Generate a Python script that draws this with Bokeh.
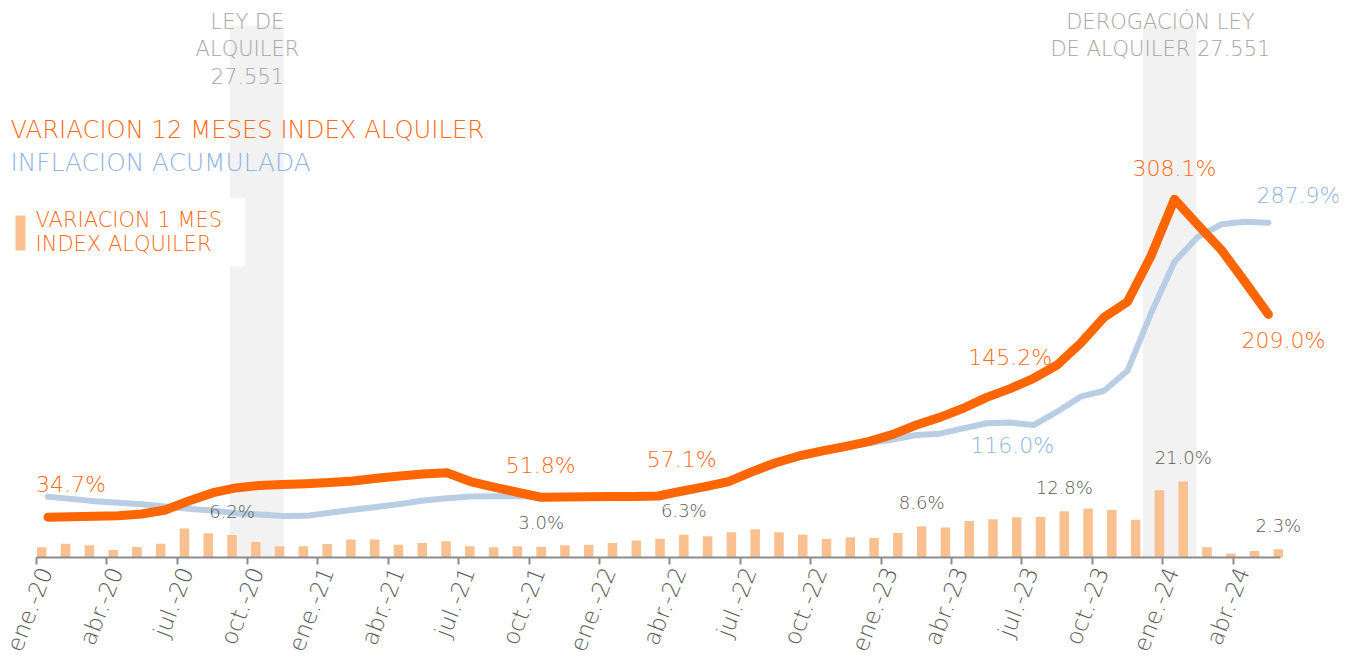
from bokeh.plotting import figure
from bokeh.models import Range1d, FixedTicker, BoxAnnotation, Label, ColumnDataSource, LinearAxis
from bokeh.core.properties import value
from bokeh.embed import file_html
from bokeh.resources import INLINE

# ---------------- data ----------------
months = ["ene.-20", "feb.-20", "mar.-20", "abr.-20", "may.-20", "jun.-20", "jul.-20", "ago.-20", "sep.-20", "oct.-20", "nov.-20", "dic.-20",
          "ene.-21", "feb.-21", "mar.-21", "abr.-21", "may.-21", "jun.-21", "jul.-21", "ago.-21", "sep.-21", "oct.-21", "nov.-21", "dic.-21",
          "ene.-22", "feb.-22", "mar.-22", "abr.-22", "may.-22", "jun.-22", "jul.-22", "ago.-22", "sep.-22", "oct.-22", "nov.-22", "dic.-22",
          "ene.-23", "feb.-23", "mar.-23", "abr.-23", "may.-23", "jun.-23", "jul.-23", "ago.-23", "sep.-23", "oct.-23", "nov.-23", "dic.-23",
          "ene.-24", "feb.-24", "mar.-24", "abr.-24", "may.-24"]

tick_labels = ["ene.-20", "abr.-20", "jul.-20", "oct.-20", "ene.-21", "abr.-21", "jul.-21", "oct.-21", "ene.-22",
               "abr.-22", "jul.-22", "oct.-22", "ene.-23", "abr.-23", "jul.-23", "oct.-23", "ene.-24", "abr.-24"]

rent_12m = [34.7, 35.0, 35.4, 35.9, 37.4, 40.8, 48.6, 55.5, 59.8, 61.9,
            62.8, 63.5, 64.5, 65.8, 68.1, 70.1, 71.8, 72.9, 65.3, 60.6,
            56.1, 51.8, 52.0, 52.2, 52.4, 52.4, 52.9, 57.1, 60.9, 65.2,
            73.8, 81.5, 87.3, 91.6, 95.6, 99.9, 105.9, 113.9, 120.5, 128.3,
            137.7, 145.2, 154.1, 165.5, 184.2, 206.5, 220.0, 259.2, 308.1, 285.9,
            264.4, 237.1, 209.0]

inflation = [52.3, 50.4, 48.4, 47.0, 45.8, 43.8, 41.9, 40.4, 38.1, 37.0,
             35.6, 35.8, 38.5, 41.0, 43.5, 46.0, 49.0, 51.0, 52.4, 52.6,
             52.6, 52.0, 51.5, 51.5, 51.8, 52.0, 52.5, 55.5, 59.5, 64.0,
             72.0, 80.0, 86.0, 90.5, 94.5, 98.5, 101.5, 105.3, 106.5, 111.0,
             115.4, 116.0, 113.9, 125.4, 138.3, 143.4, 160.6, 210.0, 254.3, 275.8,
             286.5, 288.7, 287.9]

rent_1m = [2.8, 3.8, 3.4, 2.1, 2.9, 3.8, 8.0, 6.7, 6.2, 4.3,
           3.1, 3.1, 3.7, 5.0, 5.0, 3.5, 4.0, 4.5, 3.1, 2.8,
           3.1, 3.0, 3.4, 3.5, 4.0, 4.7, 5.2, 6.3, 5.9, 7.0,
           7.8, 7.0, 6.3, 5.1, 5.6, 5.4, 6.8, 8.6, 8.3, 10.1,
           10.6, 11.1, 11.2, 12.8, 13.5, 13.1, 10.4, 18.6, 21.0, 2.8,
           1.1, 1.8, 2.3]

bar_labelled = [8, 21, 27, 37, 43, 48, 52]

law_events = ["LEY DE\nALQUILER\n27.551", "DEROGACIÓN LEY\nDE ALQUILER 27.551"]
event_start = [7.75, 46.65]
event_end = [10.05, 48.93]
event_label_x = [8.5, 47.4]

# ---------------- layout helpers ----------------
FONT = "DejaVu Sans Light"
ORANGE = "#FF6600"
ORANGE_TXT = "#FF6A13"
BLUE = "#B9CDE5"
BLUE_TXT = "#8EB4E3"
BAR = "#FAC090"
GREY_TXT = "#595959"
ANNOT = "#A6A6A6"
AXIS = "#8C8C8C"

X0, X1 = -1.680, 54.988
Y1 = 472.05
FRAME_W, FRAME_H = 1330, 549


def X(px):  # page pixel -> data x
    return X0 + (px - 8) / FRAME_W * (X1 - X0)


def Y(py):  # page pixel -> data y
    return (557 - py) / FRAME_H * Y1


idx = list(range(len(months)))

p = figure(width=1346, height=662, output_backend="svg", toolbar_location=None,
           x_range=Range1d(X0, X1), y_range=Range1d(0, Y1), y_axis_location=None,
           min_border_left=8, min_border_right=8, min_border_top=8, min_border_bottom=105,
           outline_line_color=None, background_fill_color="white", border_fill_color="white")
p.extra_x_ranges = {"bars": Range1d(-1.40, 54.53)}
p.extra_y_ranges = {"bars": Range1d(0, 151.66)}
p.grid.visible = False

# x axis: line + tick marks
ticks = [i - 0.5 for i in range(0, len(months), 3)]
ax = p.xaxis[0]
ax.ticker = FixedTicker(ticks=ticks)
ax.major_label_overrides = {t: "" for t in ticks}
ax.major_label_standoff = 0
ax.major_label_text_font_size = "0px"
ax.bounds = (-0.5, len(months) - 0.5)
ax.axis_line_color = AXIS
ax.axis_line_width = 2
ax.major_tick_line_color = AXIS
ax.major_tick_line_width = 2
ax.major_tick_in = 0
ax.major_tick_out = 7
ax.minor_tick_line_color = None

# x axis: month labels (Excel places them slightly right of each tick)
label_ticks = [t + 0.4 for t in ticks]
lab_ax = LinearAxis(ticker=FixedTicker(ticks=label_ticks),
                    major_label_overrides={t: lab for t, lab in zip(label_ticks, tick_labels)},
                    axis_line_color=None, major_tick_line_color=None, minor_tick_line_color=None,
                    major_tick_in=0, major_tick_out=0, major_label_orientation=1.2,
                    major_label_standoff=4, major_label_text_font=FONT,
                    major_label_text_font_size="23px", major_label_text_color=GREY_TXT)
p.add_layout(lab_ax, "below")

# shaded periods
for s, e in zip(event_start, event_end):
    p.add_layout(BoxAnnotation(left=s, right=e, bottom=0, top=Y(25), level="underlay",
                               fill_color="#F2F2F2", fill_alpha=1, line_color=None))
for lab, lx in zip(law_events, event_label_x):
    p.add_layout(Label(x=lx, y=Y(9), text=lab, text_align="center", text_baseline="top",
                       text_font=FONT, text_font_size="21px", text_color=ANNOT, text_line_height=1.15))

# bars
bar_src = ColumnDataSource(dict(x=idx, top=rent_1m))
p.vbar(x="x", top="top", width=0.40, source=bar_src, x_range_name="bars", y_range_name="bars",
       fill_color=BAR, line_color=None)

# lines
p.line(idx, inflation, line_color=BLUE, line_width=6, line_cap="round", line_join="round")
p.line(idx, rent_12m, line_color=ORANGE, line_width=9, line_cap="round", line_join="round")

# bar data labels (drawn over the lines)
bl_src = ColumnDataSource(dict(x=[i for i in bar_labelled], y=[rent_1m[i] for i in bar_labelled],
                               text=[f"{rent_1m[i]:.1f}%" for i in bar_labelled]))
p.text(x="x", y="y", text="text", source=bl_src, x_range_name="bars", y_range_name="bars",
       text_align="center", text_baseline="alphabetic", y_offset=-24,
       text_font=value(FONT), text_font_size="18px", text_color=GREY_TXT)

# line data labels: (series, index, x_offset, y_offset)
line_labels = [("rent", 0, 23, -33), ("rent", 21, 0, -32), ("rent", 27, 0, -32), ("rent", 41, 0, -31),
               ("rent", 48, 0, -31), ("rent", 52, 15, 26), ("infl", 52, 30, -27), ("infl", 41, 2, 23)]
series = {"rent": (rent_12m, ORANGE_TXT), "infl": (inflation, BLUE_TXT)}
ll = dict(x=[], y=[], text=[], xo=[], yo=[], c=[])
for s, i, xo, yo in line_labels:
    vals, col = series[s]
    ll["x"].append(i); ll["y"].append(vals[i]); ll["text"].append(f"{vals[i]:.1f}%")
    ll["xo"].append(xo); ll["yo"].append(yo); ll["c"].append(col)
p.text(x="x", y="y", text="text", x_offset="xo", y_offset="yo", text_color="c",
       source=ColumnDataSource(ll), text_align="center", text_baseline="alphabetic",
       text_font=value(FONT), text_font_size="22px")

# titles / legend
p.add_layout(Label(x=X(10), y=Y(129), text="VARIACION 12 MESES INDEX ALQUILER", text_align="left",
                   text_baseline="alphabetic", text_font=FONT, text_font_size="24.3px", text_color=ORANGE_TXT))
p.add_layout(Label(x=X(10), y=Y(162), text="INFLACION ACUMULADA", text_align="left",
                   text_baseline="alphabetic", text_font=FONT, text_font_size="24.8px", text_color=BLUE_TXT))
p.add_layout(BoxAnnotation(left=X(8), right=X(245), top=Y(198), bottom=Y(266),
                           fill_color="white", fill_alpha=1, line_color=None))
p.add_layout(BoxAnnotation(left=X(15), right=X(25), top=Y(215), bottom=Y(250),
                           fill_color=BAR, fill_alpha=1, line_color=None))
p.add_layout(Label(x=X(35), y=Y(219), text="VARIACION 1 MES", text_align="left",
                   text_baseline="alphabetic", text_font=FONT, text_font_size="21px", text_color=ORANGE_TXT))
p.add_layout(Label(x=X(35), y=Y(243), text="INDEX ALQUILER", text_align="left",
                   text_baseline="alphabetic", text_font=FONT, text_font_size="21px", text_color=ORANGE_TXT))

open("out.html", "w").write(file_html(p, INLINE))
